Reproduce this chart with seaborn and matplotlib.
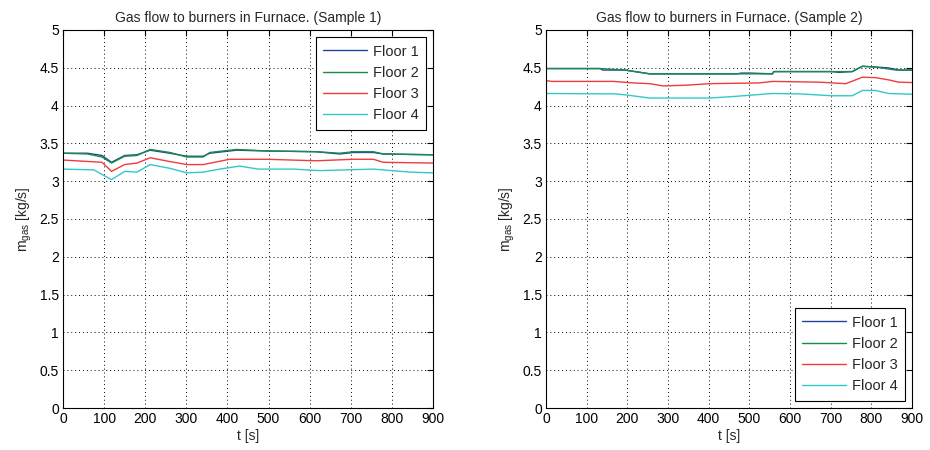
import numpy as np
import pandas as pd
import matplotlib
matplotlib.use("Agg")
import matplotlib.pyplot as plt
import seaborn as sns

# ---- data ----
floors = ["Floor 1", "Floor 2", "Floor 3", "Floor 4"]

# Sample 1
s1_f1_t = [0, 60, 95, 118, 150, 180, 212, 260, 301, 341, 357, 422, 495, 616, 673, 706, 755, 779, 892, 900]
s1_f1_v = [3.37, 3.37, 3.34, 3.25, 3.34, 3.35, 3.41, 3.37, 3.33, 3.33, 3.37, 3.41, 3.40, 3.39, 3.36, 3.38, 3.38, 3.36, 3.35, 3.35]
s1_f2_t = [0, 60, 95, 118, 150, 180, 212, 260, 301, 341, 357, 422, 495, 616, 673, 706, 755, 779, 892, 900]
s1_f2_v = [3.37, 3.36, 3.32, 3.24, 3.33, 3.34, 3.42, 3.38, 3.32, 3.32, 3.38, 3.42, 3.40, 3.39, 3.37, 3.39, 3.39, 3.36, 3.35, 3.35]
s1_f3_t = [0, 95, 118, 150, 180, 212, 260, 301, 341, 405, 495, 616, 706, 755, 779, 900]
s1_f3_v = [3.28, 3.25, 3.13, 3.22, 3.24, 3.31, 3.26, 3.22, 3.22, 3.29, 3.29, 3.27, 3.29, 3.29, 3.25, 3.24]
s1_f4_t = [0, 75, 118, 150, 180, 212, 260, 301, 341, 381, 430, 475, 560, 625, 690, 755, 845, 900]
s1_f4_v = [3.16, 3.15, 3.02, 3.13, 3.12, 3.22, 3.17, 3.11, 3.12, 3.16, 3.20, 3.16, 3.16, 3.14, 3.15, 3.16, 3.12, 3.11]

# Sample 2
s2_f1_t = [0, 133, 140, 194, 231, 255, 470, 480, 502, 557, 560, 700, 720, 753, 778, 810, 840, 870, 900]
s2_f1_v = [4.49, 4.49, 4.47, 4.47, 4.44, 4.42, 4.42, 4.43, 4.43, 4.42, 4.45, 4.45, 4.44, 4.45, 4.52, 4.51, 4.50, 4.47, 4.47]
s2_f2_t = [0, 133, 194, 231, 255, 557, 560, 753, 778, 810, 860, 900]
s2_f2_v = [4.49, 4.49, 4.47, 4.44, 4.42, 4.42, 4.45, 4.45, 4.52, 4.51, 4.47, 4.47]
s2_f3_t = [0, 15, 166, 214, 255, 288, 345, 402, 525, 557, 672, 737, 778, 810, 843, 867, 900]
s2_f3_v = [4.33, 4.32, 4.32, 4.30, 4.29, 4.26, 4.27, 4.29, 4.30, 4.32, 4.31, 4.29, 4.375, 4.37, 4.34, 4.31, 4.305]
s2_f4_t = [0, 171, 198, 255, 402, 460, 557, 623, 704, 753, 778, 810, 843, 900]
s2_f4_v = [4.16, 4.155, 4.14, 4.10, 4.10, 4.12, 4.16, 4.155, 4.13, 4.13, 4.20, 4.20, 4.16, 4.15]

titles = ["Gas flow to burners in Furnace. (Sample 1)", "Gas flow to burners in Furnace. (Sample 2)"]
x_ticks = [0, 100, 200, 300, 400, 500, 600, 700, 800, 900]
y_ticks = [0, 0.5, 1, 1.5, 2, 2.5, 3, 3.5, 4, 4.5, 5]
y_tick_labels = ["0", "0.5", "1", "1.5", "2", "2.5", "3", "3.5", "4", "4.5", "5"]

colors = ["#23449c", "#198c4c", "#f03c3c", "#33c8c8"]


def make_df(series):
    rows = []
    for name, (t, v) in zip(floors, series):
        for ti, vi in zip(t, v):
            rows.append({"t": ti, "m": vi, "Floor": name})
    return pd.DataFrame(rows)


df1 = make_df([(s1_f1_t, s1_f1_v), (s1_f2_t, s1_f2_v), (s1_f3_t, s1_f3_v), (s1_f4_t, s1_f4_v)])
df2 = make_df([(s2_f1_t, s2_f1_v), (s2_f2_t, s2_f2_v), (s2_f3_t, s2_f3_v), (s2_f4_t, s2_f4_v)])

sns.set_style("white")
plt.rcParams["font.family"] = ["Liberation Sans", "DejaVu Sans"]
plt.rcParams["mathtext.fontset"] = "custom"
plt.rcParams["mathtext.rm"] = "Liberation Sans"
plt.rcParams["mathtext.it"] = "Liberation Sans:italic"

FS = 10

fig = plt.figure(figsize=(9.3, 4.5), dpi=100)
ax1 = fig.add_axes([63 / 930, 1 - 408 / 450, 370 / 930, 378 / 450])
ax2 = fig.add_axes([546 / 930, 1 - 408 / 450, 366 / 930, 378 / 450])

palette = dict(zip(floors, colors))
for ax, df, title, loc in [(ax1, df1, titles[0], "upper right"), (ax2, df2, titles[1], "lower right")]:
    sns.lineplot(data=df, x="t", y="m", hue="Floor", hue_order=floors, palette=palette,
                 ax=ax, linewidth=1.0, estimator=None, sort=False)
    ax.set_xlim(0, 900)
    ax.set_ylim(0, 5)
    ax.set_xticks(x_ticks)
    ax.set_xticklabels([str(x) for x in x_ticks])
    ax.set_yticks(y_ticks)
    ax.set_yticklabels(y_tick_labels)
    ax.grid(True, color="black", linestyle=(0, (1, 3)), linewidth=0.7)
    ax.tick_params(direction="in", length=4, width=0.8, top=True, right=True,
                   labelsize=FS, colors="black", pad=3)
    for sp in ax.spines.values():
        sp.set_color("black")
        sp.set_linewidth(0.8)
        sp.set_visible(True)
    ax.set_title(title, fontsize=FS, pad=6)
    ax.set_xlabel("t [s]", fontsize=FS, labelpad=2)
    ax.set_ylabel(r"m$_\mathrm{gas}$ [kg/s]", fontsize=FS, labelpad=4)
    leg = ax.legend(loc=loc, fontsize=FS + 0.5, frameon=True, fancybox=False, shadow=False,
                    handlelength=3.0, borderaxespad=0.5, labelspacing=0.5,
                    borderpad=0.5, handletextpad=0.4)
    leg.get_frame().set_edgecolor("black")
    leg.get_frame().set_linewidth(0.8)
    leg.get_frame().set_alpha(1)
    leg.set_title(None)

fig.savefig("out.png", dpi=100, facecolor="white")
